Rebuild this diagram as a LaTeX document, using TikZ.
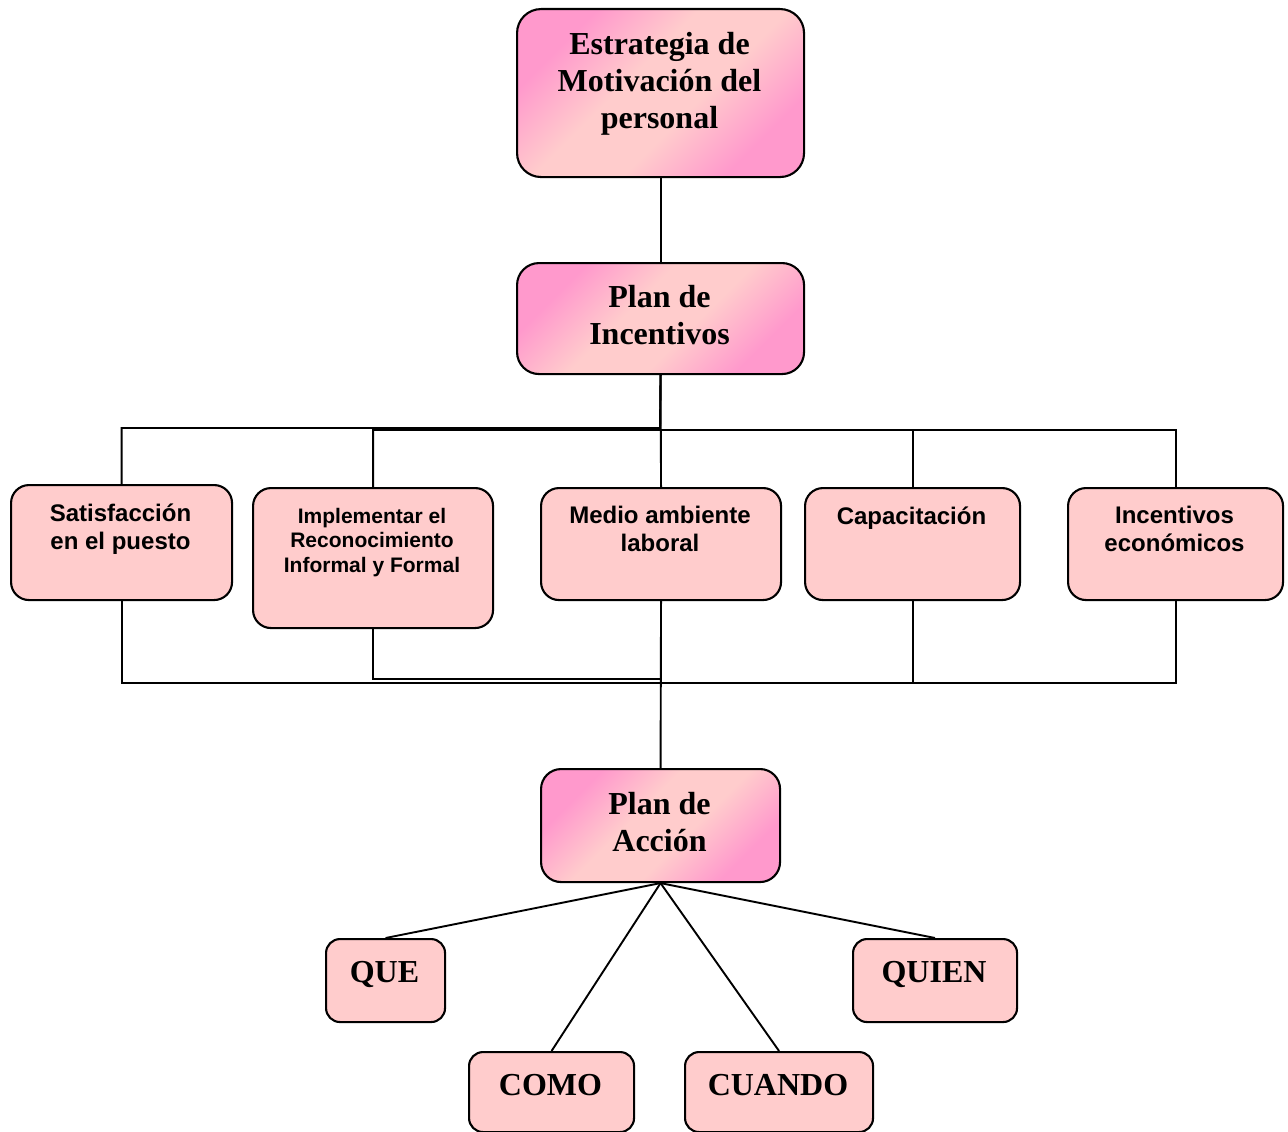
\documentclass[tikz,border=0pt]{standalone}
\usepackage{fontspec}
\setmainfont{Liberation Serif}
\newfontfamily\arialf{Liberation Sans}
\definecolor{rosa}{RGB}{255,153,204}
\definecolor{rosaclaro}{RGB}{255,204,204}
% pink at both ends, pale band across the middle
\pgfdeclarehorizontalshading{rosabanda}{100bp}{color(0bp)=(rosa); color(27bp)=(rosa);
  color(43bp)=(rosaclaro); color(57bp)=(rosaclaro); color(73bp)=(rosa); color(100bp)=(rosa)}
\begin{document}
\begin{tikzpicture}[x=1pt,y=-1pt,
  boxbase/.style={draw=black, line width=2.1pt, inner sep=0pt, anchor=north west},
  mainbox/.style={boxbase, rounded corners=24pt, shade, shading=rosabanda, shading angle=-45},
  subbox/.style={boxbase, rounded corners=18pt, fill=rosaclaro},
  qbox/.style={boxbase, rounded corners=14pt, fill=rosaclaro},
  titletext/.style={anchor=base, align=center, inner sep=0pt,
    font=\fontsize{32}{36.8}\selectfont\bfseries},
  subtext/.style={anchor=base, align=center, inner sep=0pt,
    font=\arialf\fontsize{24}{27.5}\selectfont\bfseries},
  smalltext/.style={anchor=base, align=center, inner sep=0pt,
    font=\arialf\fontsize{21}{24.5}\selectfont\bfseries},
  link/.style={draw=black, line width=1.9pt}
]
\useasboundingbox (0,0) rectangle (1288,1132);

% main chain
\node[mainbox, minimum width=287pt, minimum height=168pt] (estr) at (516,8) {};
\node[mainbox, rounded corners=22pt, minimum width=287pt, minimum height=111pt] (incent) at (516,262) {};
\node[mainbox, rounded corners=20pt, minimum width=239pt, minimum height=113pt] (accion) at (540,768) {};

% incentive areas
\node[subbox, minimum width=221pt, minimum height=115pt] (sat) at (10,484) {};
\node[subbox, minimum width=240pt, minimum height=140pt] (impl) at (252,487) {};
\node[subbox, minimum width=240pt, minimum height=112pt] (medio) at (540,487) {};
\node[subbox, minimum width=215pt, minimum height=112pt] (cap) at (804,487) {};
\node[subbox, minimum width=215pt, minimum height=112pt] (econ) at (1067,487) {};

% action questions
\node[qbox, minimum width=119pt, minimum height=83pt] (que) at (325,938) {};
\node[qbox, minimum width=164pt, minimum height=83pt] (quien) at (852,938) {};
\node[qbox, minimum width=165pt, minimum height=80pt] (como) at (468,1051) {};
\node[qbox, minimum width=188pt, minimum height=80pt] (cuando) at (684,1051) {};

% texts (placed by the baseline of their last line)
\node[titletext] (estr-t) at (659.5,128) {Estrategia de\\Motivación del\\personal};
\node[titletext] (incent-t) at (659.5,344) {Plan de\\Incentivos};
\node[titletext] (accion-t) at (659.5,851) {Plan de\\Acción};
\node[subtext] (sat-t) at (120.5,549) {Satisfacción\\en el puesto};
\node[smalltext] (impl-t) at (372,572) {Implementar el\\Reconocimiento\\Informal y Formal};
\node[subtext] (medio-t) at (660,551) {Medio ambiente\\laboral};
\node[subtext] (cap-t) at (911.5,524) {Capacitación};
\node[subtext] (econ-t) at (1174.5,551) {Incentivos\\económicos};
\node[titletext] (que-t) at (384.5,982) {QUE};
\node[titletext] (quien-t) at (934,982) {QUIEN};
\node[titletext] (como-t) at (550.5,1095) {COMO};
\node[titletext] (cuando-t) at (778,1095) {CUANDO};

% bus points
\coordinate (topA) at (660,428);
\coordinate (topB) at (660,430);
\coordinate (botA) at (660,683);
\coordinate (botB) at (660,679);

% connectors
\draw[link] (estr.south) -- (incent.north);
\draw[link] (incent.south) -- (topA) -| (sat.north);
\draw[link] (incent.south) -- (topB) -| (impl.north);
\draw[link] (topB) -| (cap.north);
\draw[link] (topB) -| (econ.north);
\draw[link] (incent.south) -- (medio.north);
\draw[link] (sat.south) |- (botA);
\draw[link] (impl.south) |- (botB);
\draw[link] (cap.south) |- (botA);
\draw[link] (econ.south) |- (botA);
\draw[link] (medio.south) -- (accion.north);
\draw[link] (accion.south) -- (que.north);
\draw[link] (accion.south) -- (como.north);
\draw[link] (accion.south) -- (cuando.north);
\draw[link] (accion.south) -- (quien.north);
\end{tikzpicture}
\end{document}
